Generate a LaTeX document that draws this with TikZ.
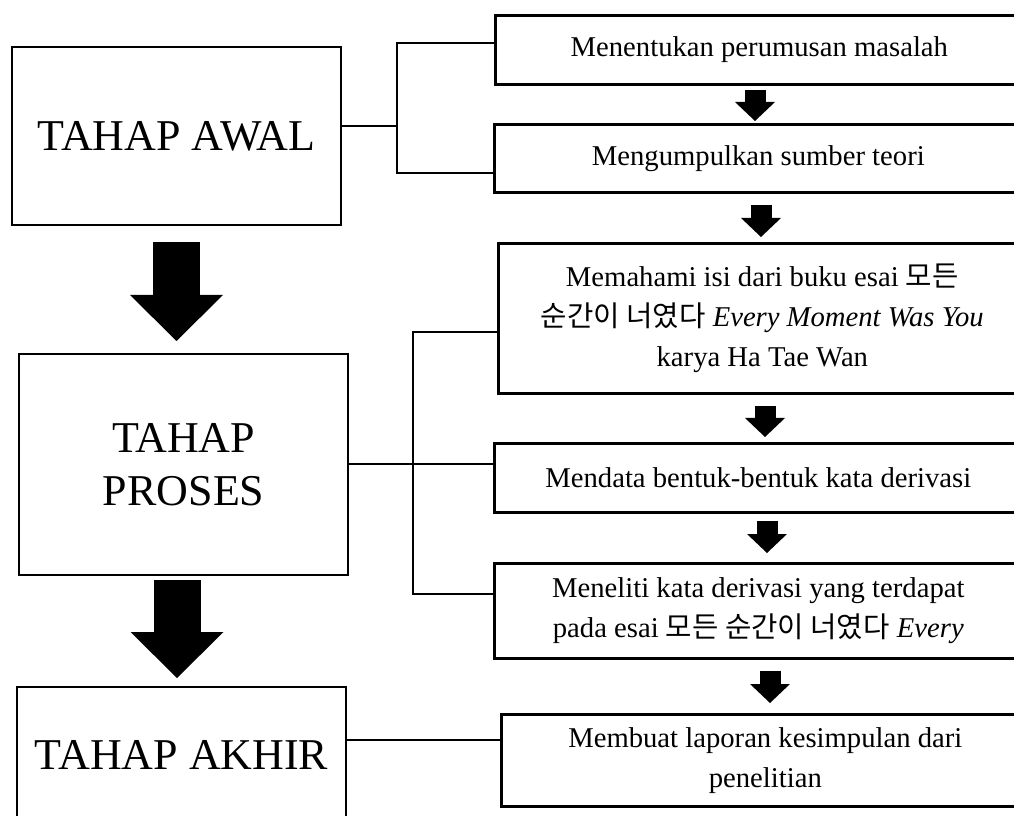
\documentclass[tikz,border=0pt]{standalone}
\usepackage{fontspec}
\setmainfont{Liberation Serif}
\newfontfamily\krfont{Noto Sans CJK KR}
\usetikzlibrary{arrows.meta,calc}

\begin{document}
\begin{tikzpicture}[x=0.75pt,y=0.75pt,yscale=-1,xscale=1,
  stage/.style={draw,line width=1.5pt,inner sep=0pt,anchor=north west,align=center,minimum width=247pt,font=\fontsize{33}{40}\selectfont},
  task/.style={draw,line width=2pt,inner sep=0pt,anchor=north west,align=center,minimum width=396pt,font=\fontsize{21.5}{30}\selectfont},
  bigarr/.style={line width=35.25pt,-{Triangle[length=34.5pt,width=69.75pt,line width=0pt]}},
  smallarr/.style={line width=15.75pt,-{Triangle[length=14.25pt,width=30pt,line width=0pt]}},
  thinline/.style={line width=1pt},
  bracket/.style={line width=1.5pt}]
%set diagram left start at 0, and has height of 816
\path[use as bounding box,clip] (0,0) rectangle (1014,816);

%Shape: Rectangle [stages]
\node[stage,minimum height=133.5pt] (awal) at (11,46) {TAHAP AWAL};
\node[stage,minimum height=165.75pt] (proses) at (18,353) {TAHAP\\PROSES};
\node[stage,minimum height=102pt] (akhir) at (16,686) {TAHAP AKHIR};

%Shape: Rectangle [tasks]
\node[task,minimum height=51.75pt] (b1) at (494,14) {Menentukan perumusan masalah};
\node[task,minimum height=51pt] (b2) at (493,123) {Mengumpulkan sumber teori};
\node[task,minimum height=112.5pt] (b3) at (497,242) {Memahami isi dari buku esai {\krfont 모든}\\{\krfont 순간이 너였다} \textit{Every Moment Was You}\\karya Ha Tae Wan};
\node[task,minimum height=51.75pt] (b4) at (493,442) {Mendata bentuk-bentuk kata derivasi};
\node[task,minimum height=71.25pt] (b5) at (493,562) {Meneliti kata derivasi yang terdapat\\pada esai {\krfont 모든 순간이 너였다} \textit{Every}};
\node[task,minimum height=69pt] (b6) at (500,713) {Membuat laporan kesimpulan dari\\penelitian};

%Block Arrow [stages]
\draw[bigarr] ($(176.5,0 |- awal.south)+(0,16)$) -- ($(176.5,0 |- proses.north)+(0,-12)$);
\draw[bigarr] ($(177,0 |- proses.south)+(0,4)$) -- ($(177,0 |- akhir.north)+(0,-8)$);

%Block Arrow [tasks]
\draw[smallarr] ($(755,0 |- b1.south)+(0,4)$) -- ($(755,0 |- b2.north)+(0,-2)$);
\draw[smallarr] ($(761,0 |- b2.south)+(0,11)$) -- ($(761,0 |- b3.north)+(0,-5)$);
\draw[smallarr] ($(765,0 |- b3.south)+(0,11)$) -- ($(765,0 |- b4.north)+(0,-5)$);
\draw[smallarr] ($(767,0 |- b4.south)+(0,7)$) -- ($(767,0 |- b5.north)+(0,-9)$);
\draw[smallarr] ($(770,0 |- b5.south)+(0,11)$) -- ($(770,0 |- b6.north)+(0,-10)$);

%Straight Lines [awal]
\coordinate (awaltop) at (397,43);
\coordinate (awalmid) at (397,126);
\coordinate (awalbot) at (397,173);
\draw[thinline] (awal.east |- awalmid) -- (awalmid);
\draw[bracket] (b1.west |- awaltop) -- (awaltop) -- (awalbot) -- (b2.west |- awalbot);

%Straight Lines [proses]
\coordinate (prosestop) at (413,332);
\coordinate (prosesbot) at (413,594);
\draw[bracket] (proses.east) -- (proses.east -| b4.west);
\draw[bracket] ($(b3.west |- prosestop)+(3,0)$) -- (prosestop) -- (prosesbot) -- (b5.west |- prosesbot);

%Straight Lines [akhir]
\coordinate (akhirline) at (420,740);
\draw[bracket] (akhir.east |- akhirline) -- (b6.west |- akhirline);

\end{tikzpicture}
\end{document}
